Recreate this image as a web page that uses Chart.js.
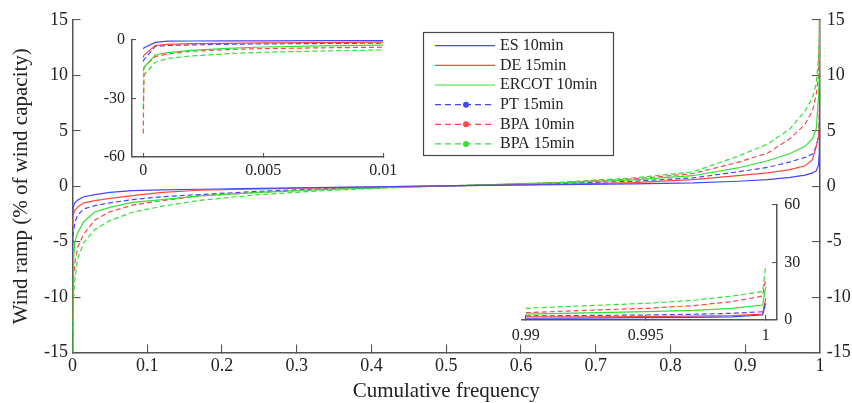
<!DOCTYPE html>
<html><head><meta charset="utf-8">
<script src="https://cdn.jsdelivr.net/npm/chart.js@4/dist/chart.umd.min.js"></script>
<style>
html,body{margin:0;padding:0;background:#fff;}
#wrap{position:relative;width:852px;height:403px;overflow:hidden;background:#fff;}
canvas{position:absolute;}
</style></head><body>
<div id="wrap">
<canvas id="main" width="852" height="423" style="left:0;top:-20px"></canvas>
<canvas id="insetL" width="322" height="175" style="left:92px;top:10px"></canvas>
<canvas id="insetR" width="320" height="173" style="left:492px;top:175px"></canvas>
</div>
<script>
// ---------- DATA ----------
const seriesNames = ['ES 10min', 'DE 15min', 'ERCOT 10min', 'PT 15min', 'BPA 10min', 'BPA 15min'];

// main chart (cumulative frequency 0..1)
const mainX = [0, 0.001, 0.003, 0.007, 0.015, 0.03, 0.05, 0.08, 0.12, 0.17, 0.25, 0.35, 0.45, 0.55, 0.65, 0.75, 0.83, 0.89, 0.93, 0.96, 0.98, 0.99, 0.995, 0.998, 0.999, 1];
const es10Main   = [-2.6, -1.9, -1.5, -1.25, -0.95, -0.75, -0.55, -0.4, -0.33, -0.27, -0.2, -0.1, 0, 0.08, 0.15, 0.22, 0.3, 0.45, 0.6, 0.8, 1.0, 1.2, 1.4, 1.9, 3, 8.7];
const de15Main   = [-3.6, -2.6, -2.2, -1.87, -1.5, -1.3, -1.1, -0.85, -0.55, -0.36, -0.25, -0.12, -0.02, 0.08, 0.18, 0.32, 0.6, 0.95, 1.2, 1.5, 1.85, 2.4, 3.6, 4.5, 5.5, 11.3];
const ercot10Main= [-16, -7, -5, -4.2, -3.2, -2.3, -1.9, -1.45, -1.2, -0.87, -0.55, -0.25, -0.05, 0.12, 0.3, 0.58, 0.95, 1.65, 2.3, 2.95, 3.6, 4.3, 5.2, 8, 10, 17.4];
const pt15Main   = [-6, -4.3, -3.3, -2.6, -2.05, -1.75, -1.5, -1.2, -0.95, -0.75, -0.45, -0.2, -0.05, 0.1, 0.25, 0.45, 0.75, 1.3, 1.7, 2.2, 2.6, 2.9, 3.6, 4.5, 6, 10];
const bpa10Main  = [-12, -8.6, -7, -5.5, -4.3, -3.05, -2.3, -1.7, -1.3, -0.87, -0.55, -0.25, -0.05, 0.12, 0.32, 0.65, 1.15, 2.15, 3.0, 4.3, 5.6, 6.8, 8.3, 10, 13, 21.7];
const bpa15Main  = [-13, -10.5, -8.5, -6.5, -5.1, -3.9, -3.1, -2.35, -1.8, -1.27, -0.75, -0.35, -0.08, 0.12, 0.35, 0.75, 1.3, 2.7, 3.8, 5.2, 6.8, 8.0, 9.3, 11.5, 14, 28.7];
const mainXTicks = [0, 0.1, 0.2, 0.3, 0.4, 0.5, 0.6, 0.7, 0.8, 0.9, 1];
const mainYTicks = [-15, -10, -5, 0, 5, 10, 15];

// upper-left inset (0 .. 0.01)
const leftX = [0, 0.00003, 0.0005, 0.001, 0.002, 0.0035, 0.005, 0.0075, 0.01];
const es10Left    = [-4.5, -4.0, -1.2, -0.6, -0.5, -0.45, -0.4, -0.37, -0.35];
const de15Left    = [-9, -7.7, -2.8, -2.2, -1.9, -1.7, -1.5, -1.3, -1.1];
const ercot10Left = [-16, -14, -7.7, -6.5, -5.3, -4.3, -3.6, -3.0, -2.6];
const pt15Left    = [-11, -10, -3.3, -2.8, -2.5, -2.2, -2.0, -1.8, -1.6];
const bpa10Left   = [-48, -14, -8.5, -7.2, -5.8, -4.9, -4.4, -4.0, -3.7];
const bpa15Left   = [-35, -18, -11.5, -9.5, -8.2, -7.0, -6.3, -5.6, -5.1];
const leftXTicks = [0, 0.005, 0.01];
const leftYTicks = [-60, -30, 0];

// lower-right inset (0.99 .. 1)
const rightX = [0.99, 0.992, 0.995, 0.997, 0.9986, 0.99987, 1];
const es10Right    = [0.9, 1.0, 1.2, 1.4, 1.6, 2.6, 8.7];
const de15Right    = [1.7, 1.7, 1.8, 2.0, 2.3, 3.1, 11.3];
const ercot10Right = [3.1, 3.6, 4.4, 5.0, 6.1, 7.8, 17.4];
const pt15Right    = [2.1, 2.3, 2.6, 3.0, 3.5, 4.3, 10];
const bpa10Right   = [3.8, 4.8, 6.1, 7.5, 9.6, 12.5, 21.7];
const bpa15Right   = [6.1, 7.2, 8.7, 10.3, 12.5, 14.8, 28.7];
const rightXTicks = [0.99, 0.995, 1];
const rightYTicks = [0, 30, 60];

// ---------- STYLE ----------
const FONT = '"Liberation Serif", "Times New Roman", serif';
Chart.defaults.font.family = FONT;
Chart.defaults.color = '#222';
const AX = 'rgb(85,85,85)';
const TXT = '#222';
const colors = ['rgb(70,70,255)', 'rgb(255,70,70)', 'rgb(50,225,50)', 'rgb(70,70,255)', 'rgb(255,70,70)', 'rgb(50,225,50)'];
const dashes = [[], [], [], [5, 3], [5, 3], [5, 3]];
const markers = [false, false, false, true, true, true];

function mkDatasets(xs, list) {
  return list.map((ys, i) => ({
    label: seriesNames[i],
    data: xs.map((x, k) => ({x: x, y: ys[k]})),
    borderColor: colors[i],
    borderDash: dashes[i],
    borderWidth: 1.2,
    pointRadius: 0,
    fill: false,
    tension: 0
  }));
}

function scaleCfg(o) {
  const c = {
    type: 'linear',
    min: o.min, max: o.max,
    position: o.position,
    afterBuildTicks: s => { s.ticks = o.ticks.map(v => ({value: v})); },
    afterFit: s => { if (o.width !== undefined) s.width = o.width; if (o.height !== undefined) s.height = o.height; },
    grid: {drawOnChartArea: false, drawTicks: true, tickLength: -o.tl, color: AX, lineWidth: 1.1},
    border: {display: true, color: AX, width: 1.5},
    ticks: {padding: o.pad, font: {size: o.fs}, color: TXT, autoSkip: false, maxRotation: 0, minRotation: 0,
            callback: v => String(v)}
  };
  if (o.title) c.title = o.title;
  return c;
}

const common = {
  responsive: false,
  animation: false,
  devicePixelRatio: 1,
  events: [],
  plugins: {legend: {display: false}, tooltip: {enabled: false}},
  elements: {point: {radius: 0}}
};

// main canvas is shifted up by 20px, so legend coordinates are offset
const LEG_DY = 20;
const legendPlugin = {
  id: 'boxLegend',
  afterDraw(chart) {
    const ctx = chart.ctx;
    ctx.save();
    ctx.translate(0, LEG_DY);
    ctx.fillStyle = '#fff';
    ctx.fillRect(423.5, 32.5, 190, 123);
    ctx.strokeStyle = 'rgb(70,70,70)';
    ctx.lineWidth = 1.2;
    ctx.strokeRect(423.5, 32.5, 190, 123);
    seriesNames.forEach((name, i) => {
      const y = 45.7 + i * 19.65;
      ctx.strokeStyle = colors[i];
      ctx.lineWidth = 1.2;
      ctx.setLineDash(dashes[i].length ? [6, 4] : []);
      ctx.beginPath(); ctx.moveTo(435, y); ctx.lineTo(495, y); ctx.stroke();
      ctx.setLineDash([]);
      if (markers[i]) {
        ctx.fillStyle = colors[i];
        ctx.beginPath(); ctx.arc(466, y, 3, 0, Math.PI * 2); ctx.fill();
      }
      ctx.fillStyle = TXT;
      ctx.font = '16px ' + FONT;
      ctx.textBaseline = 'middle';
      ctx.textAlign = 'left';
      ctx.fillText(name, 500, y);
    });
    ctx.restore();
  }
};

// ---------- MAIN ----------
new Chart(document.getElementById('main'), {
  type: 'line',
  data: {datasets: mkDatasets(mainX, [es10Main, de15Main, ercot10Main, pt15Main, bpa10Main, bpa15Main])},
  options: Object.assign({}, common, {
    layout: {padding: {left: 0, top: 40, right: 0, bottom: 0}},
    scales: {
      x: scaleCfg({min: 0, max: 1, ticks: mainXTicks, height: 50.5, tl: 8, pad: 11, fs: 18,
        title: {display: true, text: 'Cumulative frequency', color: TXT, font: {size: 21, lineHeight: 1.1}, padding: {top: 0, bottom: 0}}}),
      y: scaleCfg({min: -15, max: 15, position: 'left', ticks: mainYTicks, width: 72.5, tl: 8, pad: 12.5, fs: 18,
        title: {display: true, text: 'Wind ramp (% of wind capacity)', color: TXT, font: {size: 21, lineHeight: 1.1}, padding: {top: 9.45, bottom: 0}}}),
      y2: scaleCfg({min: -15, max: 15, position: 'right', ticks: mainYTicks, width: 32, tl: 8, pad: 14.7, fs: 18})
    }
  }),
  plugins: [legendPlugin]
});

// ---------- INSET LEFT ----------
new Chart(document.getElementById('insetL'), {
  type: 'line',
  data: {datasets: mkDatasets(leftX, [es10Left, de15Left, ercot10Left, pt15Left, bpa10Left, bpa15Left])},
  options: Object.assign({}, common, {
    layout: {padding: {left: 0, top: 30, right: 30.7, bottom: 0}},
    scales: {
      x: scaleCfg({min: -0.00047, max: 0.01, ticks: leftXTicks, height: 28, tl: 4, pad: 7.7, fs: 16}),
      y: scaleCfg({min: -60, max: 0, position: 'left', ticks: leftYTicks, width: 40, tl: 4, pad: 11, fs: 16})
    }
  })
});

// ---------- INSET RIGHT ----------
new Chart(document.getElementById('insetR'), {
  type: 'line',
  data: {datasets: mkDatasets(rightX, [es10Right, de15Right, ercot10Right, pt15Right, bpa10Right, bpa15Right])},
  options: Object.assign({}, common, {
    layout: {padding: {left: 29.7, top: 30, right: 0, bottom: 0}},
    scales: {
      x: scaleCfg({min: 0.98983, max: 1.00047, ticks: rightXTicks, height: 28, tl: 5, pad: 11.2, fs: 16}),
      y: scaleCfg({min: 0, max: 60, position: 'right', ticks: rightYTicks, width: 35, tl: 5, pad: 12.3, fs: 16})
    }
  })
});
</script>
</body></html>
